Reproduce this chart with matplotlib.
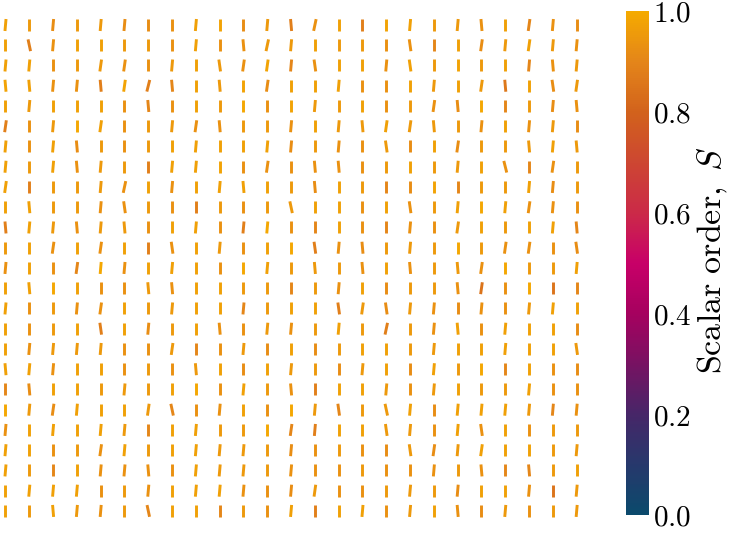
import numpy as np
import matplotlib
matplotlib.use("Agg")
import matplotlib.pyplot as plt
from matplotlib.collections import LineCollection
from matplotlib.colors import LinearSegmentedColormap, Normalize
from matplotlib.cm import ScalarMappable

plt.rcParams['mathtext.fontset'] = 'cm'

# tilt of the director from vertical, degrees (positive = top leans right); rows top -> bottom
tilt_deg = [
    [5, 0, 5, 0, 5, 5, 0, 0, 5, 0, 0, 5, -5, 12, 0, 0, 0, 5, 0, 5, -5, 0, 8, 5, 0],
    [0, -12, 5, 0, 0, 0, 0, 0, 5, 0, -5, 12, 5, 0, 0, 0, 0, -8, 0, 0, 8, 5, 8, 5, 5],
    [5, 5, 0, 0, 8, 8, 0, 5, 0, -8, 8, 8, 5, -8, 0, 0, 5, -8, 0, 0, 0, 0, 5, -5, 5],
    [-5, -5, 5, 5, -5, 8, 14, -5, 0, -5, 0, 8, 0, 0, 5, 0, 0, 0, 5, 0, 8, -5, 0, -8, 8],
    [0, 5, 0, 0, 0, 0, -5, 0, 0, 0, 0, 0, 0, 5, 0, 0, 0, 0, 8, -5, 0, 0, 0, 5, -5],
    [8, 0, 5, 0, 8, 0, 0, 5, 8, -5, 0, 0, 5, 0, 5, -5, 8, 8, -5, 0, 5, 0, 5, 5, 0],
    [5, 0, 5, -5, 0, 0, 0, 0, 5, 0, 0, 5, 5, 0, 5, 0, -8, 0, 0, 8, 0, 0, -5, 5, -5],
    [5, 0, 5, -5, 5, 0, 0, 5, 5, 0, 0, 8, 0, -5, -5, 0, 0, 0, 0, 5, 0, -14, 0, 8, 0],
    [8, 0, 0, 0, 5, 12, 0, 5, 0, 5, -5, 0, 0, -5, 0, 0, 0, 0, 0, 0, 0, 0, 5, 5, 0],
    [0, -5, 0, 0, 5, -8, 0, 0, 0, 0, 0, 0, -12, 0, 0, 0, 0, -8, 0, 5, 0, 5, 8, 5, 0],
    [-5, 5, 5, -5, 5, -5, 0, 0, 5, 0, 5, 5, 0, 0, 0, 0, 0, 5, 0, 8, 0, 0, 0, 5, -5],
    [0, 0, 8, 0, 8, 0, 0, -8, 0, 5, 0, 0, 0, -8, 5, -5, 0, 5, 0, 0, 0, 8, 8, 0, -8],
    [5, 0, 0, 8, 5, 5, 0, 5, 0, 0, 0, 5, 0, -5, 0, -5, 0, -5, 0, -5, 8, 0, 0, 0, 5],
    [0, -5, 0, 0, 0, 0, -5, -5, 0, 0, 0, 0, 0, 0, 5, 0, 0, 0, 0, -5, 8, 0, 0, 0, 0],
    [5, 0, 0, 5, 8, 0, 0, 5, 0, 0, 5, 0, 0, 0, -8, 8, -8, 5, 5, 0, 5, 0, 5, 5, 0],
    [0, 0, 0, 0, -8, 0, 5, 0, 0, -5, 0, 5, 5, 0, 5, 0, 12, 0, 5, -5, 0, 5, 0, 0, 0],
    [0, 5, 5, 5, 5, 0, 0, 8, 0, 0, 5, 0, 0, 0, 0, 0, 0, 0, 5, 0, 0, 5, 0, 0, -8],
    [-5, 5, 5, 0, 0, 0, 0, 0, -5, 0, 0, 0, 5, 0, 0, 5, 0, 0, 5, 0, 0, 0, 0, 0, 0],
    [0, -5, 0, 0, 0, 5, 0, 0, 0, 0, 5, 0, -5, 0, 0, 0, 5, 0, 5, 0, 0, 0, 5, 0, 0],
    [0, 5, 8, 5, 0, 0, 8, -12, 0, 5, 0, 0, 0, 5, -8, 0, -12, 5, 0, 5, 5, 5, 5, 5, 5],
    [5, 0, 5, 0, 5, 5, 0, 0, 5, 0, 0, 0, 8, 5, 0, 0, -8, 5, 0, 5, -8, 0, 0, 0, 0],
    [5, 0, 0, 0, 8, 5, 0, 0, 5, 5, 5, 0, 5, 0, 0, 0, 0, -8, 8, 5, 8, 0, 0, 0, 5],
    [5, 0, 0, 0, 5, 5, -5, 0, 5, 5, 5, 0, 5, 0, 0, 0, 0, 0, 5, 0, -5, 0, -5, 0, 0],
    [0, 5, 5, 5, 0, 0, 5, 0, 5, 5, 5, 0, 5, 8, 0, 0, 0, 5, 0, 5, 0, 0, 5, 0, 5],
    [0, 0, -5, 5, 5, 0, -12, 0, 0, 0, 0, 0, 5, 0, 0, 5, 0, 5, 0, -5, 0, 5, 0, 0, 5],
]

# scalar order S (percent), rows top -> bottom
order_pct = [
    [97, 95, 92, 95, 95, 92, 92, 93, 97, 98, 92, 95, 88, 93, 97, 88, 98, 97, 95, 95, 93, 97, 90, 93, 92],
    [97, 88, 93, 97, 97, 95, 95, 93, 97, 93, 93, 95, 95, 97, 95, 95, 93, 93, 90, 97, 92, 95, 97, 95, 93],
    [97, 97, 93, 95, 95, 93, 93, 95, 97, 95, 93, 98, 90, 93, 97, 97, 93, 97, 95, 98, 95, 97, 90, 93, 95],
    [98, 97, 93, 93, 88, 98, 88, 90, 97, 95, 98, 92, 97, 97, 97, 93, 93, 97, 95, 97, 95, 86, 97, 92, 95],
    [97, 95, 97, 97, 97, 93, 90, 93, 97, 95, 99, 93, 98, 95, 95, 97, 93, 95, 93, 92, 99, 90, 95, 92, 93],
    [88, 93, 95, 99, 97, 93, 95, 95, 93, 93, 95, 95, 93, 97, 95, 95, 97, 95, 95, 95, 93, 97, 93, 95, 92],
    [97, 93, 97, 92, 95, 93, 95, 97, 97, 97, 97, 97, 92, 95, 93, 93, 95, 92, 97, 92, 95, 95, 95, 97, 95],
    [97, 95, 97, 93, 95, 95, 88, 97, 97, 98, 93, 93, 93, 93, 93, 93, 95, 97, 95, 95, 97, 93, 90, 93, 95],
    [97, 88, 95, 95, 95, 93, 97, 93, 97, 97, 97, 97, 95, 92, 97, 95, 90, 92, 98, 90, 95, 95, 97, 92, 95],
    [97, 97, 95, 95, 93, 93, 95, 93, 88, 95, 93, 95, 95, 97, 97, 93, 97, 93, 95, 97, 99, 97, 93, 93, 93],
    [88, 97, 95, 93, 95, 95, 93, 97, 97, 93, 88, 99, 93, 90, 97, 93, 90, 93, 93, 95, 97, 95, 97, 97, 90],
    [95, 97, 93, 97, 93, 97, 88, 93, 97, 95, 93, 97, 99, 88, 93, 92, 95, 95, 95, 99, 95, 93, 93, 93, 92],
    [93, 97, 93, 90, 99, 93, 97, 97, 97, 93, 99, 97, 95, 95, 95, 93, 97, 93, 95, 95, 93, 99, 95, 95, 97],
    [97, 97, 99, 97, 93, 93, 95, 93, 97, 97, 95, 95, 90, 95, 93, 97, 92, 95, 95, 93, 85, 93, 99, 85, 90],
    [97, 93, 95, 93, 93, 97, 95, 95, 97, 97, 90, 95, 97, 97, 88, 95, 92, 95, 93, 92, 93, 93, 95, 97, 97],
    [97, 93, 95, 97, 88, 97, 92, 95, 97, 93, 93, 95, 93, 95, 97, 95, 88, 95, 93, 97, 93, 97, 97, 97, 92],
    [97, 93, 95, 95, 95, 93, 93, 95, 90, 93, 95, 92, 97, 92, 95, 97, 97, 95, 95, 97, 97, 97, 97, 97, 95],
    [97, 97, 93, 97, 97, 93, 95, 93, 95, 97, 92, 97, 95, 95, 92, 95, 97, 92, 97, 95, 99, 90, 97, 93, 92],
    [90, 92, 97, 97, 95, 95, 95, 97, 99, 93, 97, 95, 93, 88, 97, 97, 95, 93, 95, 97, 95, 95, 97, 93, 93],
    [99, 95, 92, 97, 97, 97, 95, 90, 93, 93, 97, 93, 99, 95, 90, 95, 95, 97, 92, 97, 97, 97, 95, 90, 93],
    [93, 97, 97, 97, 97, 95, 90, 97, 97, 95, 95, 99, 90, 88, 97, 97, 95, 95, 93, 97, 93, 97, 93, 95, 95],
    [97, 97, 93, 95, 93, 97, 95, 97, 97, 95, 95, 95, 92, 93, 95, 93, 92, 95, 92, 95, 97, 97, 97, 95, 95],
    [97, 95, 90, 97, 93, 93, 93, 93, 97, 95, 95, 95, 93, 93, 93, 95, 93, 93, 93, 95, 93, 90, 90, 95, 97],
    [97, 97, 97, 97, 93, 95, 93, 97, 97, 97, 93, 93, 92, 95, 93, 93, 95, 95, 95, 92, 97, 97, 93, 85, 95],
    [97, 95, 97, 95, 93, 95, 90, 97, 97, 90, 95, 93, 97, 88, 97, 97, 93, 95, 97, 93, 92, 95, 93, 95, 95],
]

cbar_ticks = [0.0, 0.2, 0.4, 0.6, 0.8, 1.0]
cbar_label = r'$\mathrm{Scalar\ order,}\ S$'

cmap = LinearSegmentedColormap.from_list('order', [
    (0.00, '#0b4a6c'),
    (0.10, '#27386c'),
    (0.20, '#472668'),
    (0.30, '#781262'),
    (0.40, '#a6015f'),
    (0.50, '#c80068'),
    (0.60, '#cb2a48'),
    (0.70, '#cd4632'),
    (0.80, '#d2621c'),
    (0.90, '#e4851a'),
    (1.00, '#f5aa00'),
])
norm = Normalize(0, 1)

W, H, DPI = 7.30, 5.33, 100
fig = plt.figure(figsize=(W, H), dpi=DPI)

# main axes (no frame)
ax = fig.add_axes([0.0, 0.0, 590 / 730, 1.0])
ax.set_axis_off()
ax.set_xlim(-0.231, 24.56)
ax.set_ylim(25.09, -1.235)

theta = np.deg2rad(np.array(tilt_deg, dtype=float))
S = np.array(order_pct, dtype=float) / 100.0
nr, nc = theta.shape
cols, rows = np.meshgrid(np.arange(nc), np.arange(nr))
centers = np.column_stack([cols.ravel(), rows.ravel()])

half = 0.06  # half-length in inches
dx = half * np.sin(theta.ravel())
dy = half * np.cos(theta.ravel())
segs = np.stack([np.column_stack([-dx, -dy]), np.column_stack([dx, dy])], axis=1)

lc = LineCollection(segs, offsets=centers, offset_transform=ax.transData,
                    transform=fig.dpi_scale_trans, cmap=cmap, norm=norm,
                    linewidths=2.1, capstyle='butt')
lc.set_array(S.ravel())
ax.add_collection(lc)

# colorbar
cax = fig.add_axes([626 / 730, 18 / 533, 23 / 730, 504 / 533])
cb = fig.colorbar(ScalarMappable(norm=norm, cmap=cmap), cax=cax, ticks=cbar_ticks)
cb.outline.set_visible(False)
cax.tick_params(length=0, pad=3)
cax.set_yticklabels([r'$%.1f$' % t for t in cbar_ticks], fontsize=21)
fig.text(713 / 730, 1 - 260 / 533, cbar_label, fontsize=24.5, rotation=90,
         ha='center', va='center')

fig.savefig('out.png', dpi=DPI)
